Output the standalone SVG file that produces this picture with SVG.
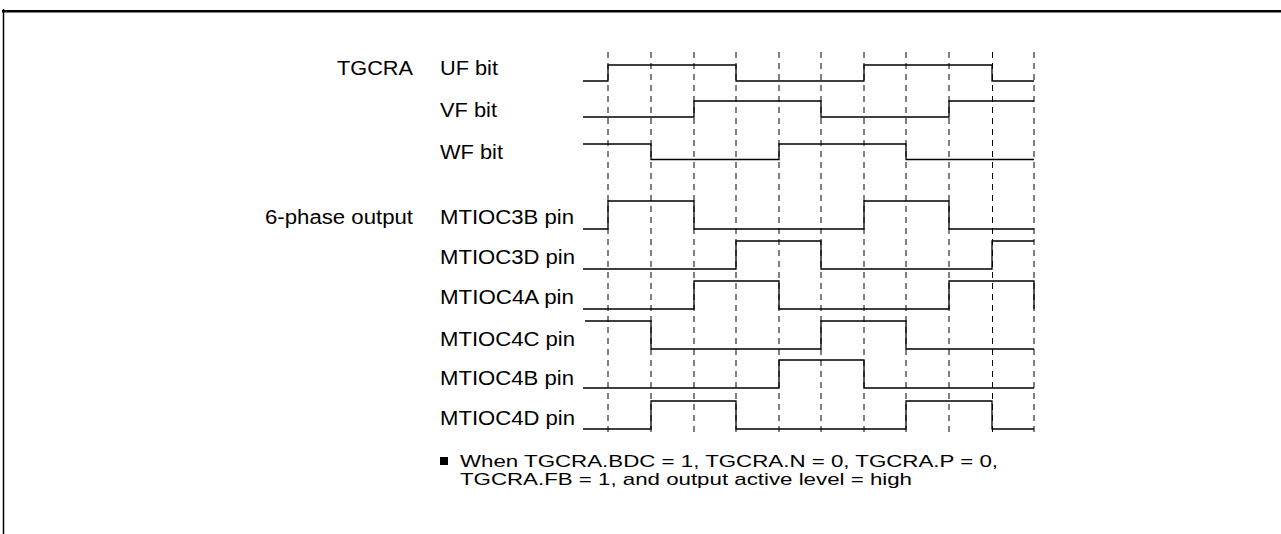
<svg xmlns="http://www.w3.org/2000/svg" width="1281" height="534" viewBox="0 0 1281 534">
<style>
  .lbl { font-family: "Liberation Sans", Arial, sans-serif; font-size: 20px; fill: #000; }
  .note { font-family: "Liberation Sans", Arial, sans-serif; font-size: 17px; fill: #000; }
  .wave { fill: none; stroke: #000; stroke-width: 1.3; }
  .dash { stroke: #000; stroke-width: 1; stroke-dasharray: 6 5; }
  .frame { stroke: #000; fill: none; }
</style>
<rect x="0" y="0" width="1281" height="534" fill="#fff"/>
<g id="frame">
  <line class="frame" x1="2" y1="11.2" x2="1281" y2="11.2" stroke-width="2.6"/>
  <line class="frame" x1="3.5" y1="9" x2="3.5" y2="534" stroke-width="1.5"/>
</g>
<g id="gridlines">
  <line class="dash" x1="608" y1="52" x2="608" y2="436"/>
  <line class="dash" x1="651" y1="52" x2="651" y2="436"/>
  <line class="dash" x1="694" y1="52" x2="694" y2="436"/>
  <line class="dash" x1="736" y1="52" x2="736" y2="436"/>
  <line class="dash" x1="779" y1="52" x2="779" y2="436"/>
  <line class="dash" x1="821" y1="52" x2="821" y2="436"/>
  <line class="dash" x1="864" y1="52" x2="864" y2="436"/>
  <line class="dash" x1="906" y1="52" x2="906" y2="436"/>
  <line class="dash" x1="949" y1="52" x2="949" y2="436"/>
  <line class="dash" x1="992.5" y1="52" x2="992.5" y2="436"/>
  <line class="dash" x1="1034" y1="52" x2="1034" y2="436"/>
</g>
<g id="group-labels">
  <text class="lbl" x="337" y="75" textLength="76" lengthAdjust="spacingAndGlyphs">TGCRA</text>
  <text class="lbl" x="265" y="224" textLength="148" lengthAdjust="spacingAndGlyphs">6-phase output</text>
</g>
<g id="uf">
  <text class="lbl" x="440" y="75" textLength="58" lengthAdjust="spacingAndGlyphs">UF bit</text>
  <path class="wave" d="M583,81 H608 V65 H736 V81 H864 V65 H992 V81 H1034"/>
</g>
<g id="vf">
  <text class="lbl" x="440" y="117" textLength="57" lengthAdjust="spacingAndGlyphs">VF bit</text>
  <path class="wave" d="M583,117 H694 V101 H821 V117 H949 V101 H1034"/>
</g>
<g id="wf">
  <text class="lbl" x="440" y="158.5" textLength="63" lengthAdjust="spacingAndGlyphs">WF bit</text>
  <path class="wave" d="M583,144 H651 V159.5 H779 V144 H906 V159.5 H1034"/>
</g>
<g id="mtioc3b">
  <text class="lbl" x="440" y="224" textLength="134" lengthAdjust="spacingAndGlyphs">MTIOC3B pin</text>
  <path class="wave" d="M583,229 H608 V201 H694 V229 H864 V201 H949 V229 H1034"/>
</g>
<g id="mtioc3d">
  <text class="lbl" x="440" y="264" textLength="135" lengthAdjust="spacingAndGlyphs">MTIOC3D pin</text>
  <path class="wave" d="M583,269 H736 V241 H821 V269 H992 V241 H1034"/>
</g>
<g id="mtioc4a">
  <text class="lbl" x="440" y="304" textLength="134" lengthAdjust="spacingAndGlyphs">MTIOC4A pin</text>
  <path class="wave" d="M583,309 H694 V281 H779 V309 H949 V281 H1034 V309"/>
</g>
<g id="mtioc4c">
  <text class="lbl" x="440" y="345.5" textLength="135" lengthAdjust="spacingAndGlyphs">MTIOC4C pin</text>
  <path class="wave" d="M585,321 H651 V349 H821 V321 H906 V349 H1034"/>
</g>
<g id="mtioc4b">
  <text class="lbl" x="440" y="385" textLength="134" lengthAdjust="spacingAndGlyphs">MTIOC4B pin</text>
  <path class="wave" d="M583,388 H779 V360 H864 V388 H1034"/>
</g>
<g id="mtioc4d">
  <text class="lbl" x="440" y="425" textLength="135" lengthAdjust="spacingAndGlyphs">MTIOC4D pin</text>
  <path class="wave" d="M583,429 H651 V401 H736 V429 H906 V401 H992 V429 H1034"/>
</g>
<g id="note">
  <rect x="440" y="457" width="8" height="8" fill="#000"/>
  <text class="note" x="460" y="467" textLength="538" lengthAdjust="spacingAndGlyphs">When TGCRA.BDC = 1, TGCRA.N = 0, TGCRA.P = 0,</text>
  <text class="note" x="460" y="485" textLength="452" lengthAdjust="spacingAndGlyphs">TGCRA.FB = 1, and output active level = high</text>
</g>
</svg>
